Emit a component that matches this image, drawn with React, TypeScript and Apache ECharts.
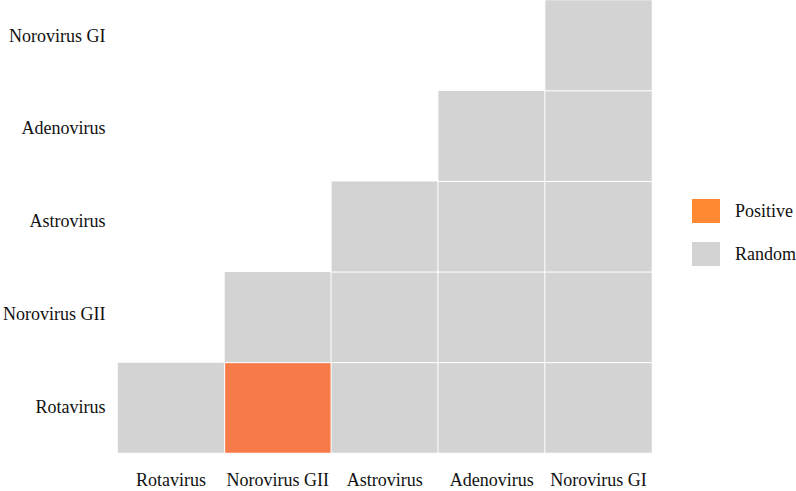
import React, { useEffect, useRef } from "react";
import * as echarts from "echarts";

const xCategories = ["Rotavirus", "Norovirus GII", "Astrovirus", "Adenovirus", "Norovirus GI"];
const yCategories = ["Rotavirus", "Norovirus GII", "Astrovirus", "Adenovirus", "Norovirus GI"];
// [x category, y category]
const positiveCells: [string, string][] = [["Norovirus GII", "Rotavirus"]];
const randomCells: [string, string][] = [
  ["Rotavirus", "Rotavirus"],
  ["Astrovirus", "Rotavirus"],
  ["Adenovirus", "Rotavirus"],
  ["Norovirus GI", "Rotavirus"],
  ["Norovirus GII", "Norovirus GII"],
  ["Astrovirus", "Norovirus GII"],
  ["Adenovirus", "Norovirus GII"],
  ["Norovirus GI", "Norovirus GII"],
  ["Astrovirus", "Astrovirus"],
  ["Adenovirus", "Astrovirus"],
  ["Norovirus GI", "Astrovirus"],
  ["Adenovirus", "Adenovirus"],
  ["Norovirus GI", "Adenovirus"],
  ["Norovirus GI", "Norovirus GI"],
];

const FONT = "'Liberation Serif', 'Times New Roman', serif";

export default function App() {
  const ref = useRef<HTMLDivElement>(null);
  useEffect(() => {
    if (!ref.current) return;
    const chart = echarts.init(ref.current, undefined, { renderer: "svg" });
    const toData = (cells: [string, string][], v: number) =>
      cells.map(([x, y]) => [xCategories.indexOf(x), yCategories.indexOf(y), v]);
    const hiddenAxisBits = {
      axisLine: { show: false },
      axisTick: { show: false },
      splitLine: { show: false },
    };
    chart.setOption({
      animation: false,
      grid: [
        { left: 117.5, right: 144, top: 0, bottom: 38, containLabel: false },
        { left: 117.5, right: 144, top: 0, bottom: 38, containLabel: false },
      ],
      xAxis: [
        {
          type: "category",
          gridIndex: 0,
          data: xCategories,
          ...hiddenAxisBits,
          axisLabel: { color: "#111", fontFamily: FONT, fontSize: 18, margin: 18, interval: 0 },
        },
        {
          type: "category",
          gridIndex: 1,
          data: xCategories,
          show: false,
        },
      ],
      yAxis: [
        {
          type: "category",
          gridIndex: 0,
          data: yCategories,
          ...hiddenAxisBits,
          axisLabel: { show: false },
        },
        {
          type: "value",
          gridIndex: 1,
          min: -0.5,
          max: 4.384,
          interval: 0.5,
          ...hiddenAxisBits,
          axisLabel: {
            color: "#111",
            fontFamily: FONT,
            fontSize: 18,
            margin: 15,
            showMaxLabel: false,
            formatter: (v: number) => {
              const r = Math.round(v);
              return Math.abs(v - r) < 1e-6 && r >= 0 && r < yCategories.length ? yCategories[r] : "";
            },
          },
        },
      ],
      visualMap: {
        type: "piecewise",
        show: false,
        dimension: 2,
        seriesIndex: [0, 1],
        pieces: [
          { value: 1, color: "#f77b48" },
          { value: 0, color: "#d3d3d3" },
        ],
      },
      legend: {
        orient: "vertical",
        left: 690,
        top: 197,
        padding: 0,
        itemWidth: 30,
        itemHeight: 26,
        itemGap: 15,
        textStyle: { color: "#111", fontFamily: FONT, fontSize: 18, padding: [0, 0, 0, 9] },
        data: [
          { name: "Positive", icon: "rect", itemStyle: { color: "#ff8833" } },
          { name: "Random", icon: "rect", itemStyle: { color: "#d3d3d3" } },
        ],
      },
      series: [
        {
          name: "Positive",
          type: "heatmap",
          xAxisIndex: 0,
          yAxisIndex: 0,
          data: toData(positiveCells, 1),
          itemStyle: { color: "#f77b48", borderColor: "#ffffff", borderWidth: 1 },
          emphasis: { disabled: true },
        },
        {
          name: "Random",
          type: "heatmap",
          xAxisIndex: 0,
          yAxisIndex: 0,
          data: toData(randomCells, 0),
          itemStyle: { color: "#d3d3d3", borderColor: "#ffffff", borderWidth: 1 },
          emphasis: { disabled: true },
        },
      ],
    });
    return () => chart.dispose();
  }, []);
  return (
    <div
      ref={ref}
      style={{ position: "absolute", left: 0, top: 0, width: 796, height: 491, background: "#fff" }}
    />
  );
}
